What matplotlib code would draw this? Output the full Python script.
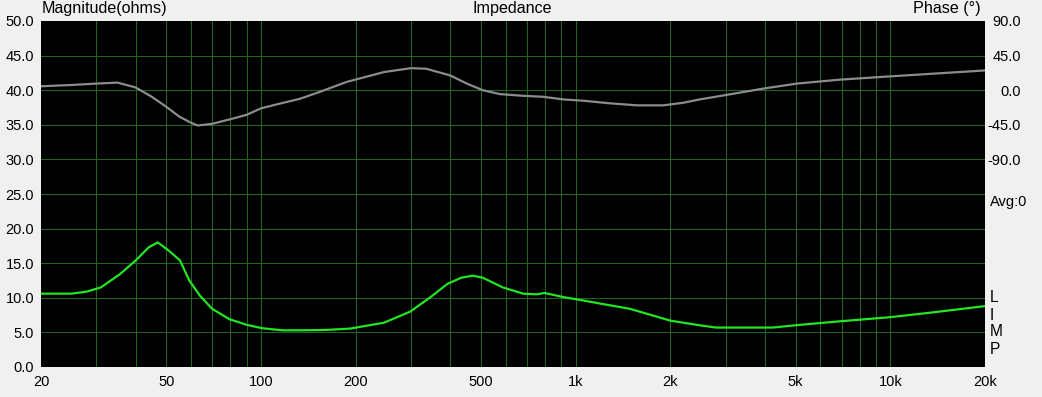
import numpy as np
import matplotlib
matplotlib.use("Agg")
import matplotlib.pyplot as plt
from matplotlib.ticker import FixedLocator, LogLocator, NullFormatter

plt.rcParams['font.family'] = ['Liberation Sans', 'DejaVu Sans']
plt.rcParams['font.size'] = 10

# impedance magnitude (ohms)
mag_freq = [20, 25, 28, 31, 35.6, 40, 44, 47, 51, 55.3, 59.2, 64, 70, 79.5, 90, 101,
            117, 133, 160, 192, 246, 298, 346, 391, 433, 471, 507, 587, 681, 752, 797,
            915, 1060, 1220, 1490, 2000, 2420, 2790, 3500, 4230, 5050, 6900, 10000,
            13700, 20000]
magnitude = [10.6, 10.6, 10.9, 11.5, 13.4, 15.4, 17.3, 18.0, 16.8, 15.4, 12.5, 10.3,
             8.4, 6.9, 6.1, 5.6, 5.3, 5.3, 5.35, 5.55, 6.4, 8.0, 10.1, 12.0, 12.9, 13.2,
             12.9, 11.5, 10.6, 10.5, 10.7, 10.1, 9.6, 9.1, 8.4, 6.7, 6.1, 5.7, 5.7, 5.7,
             6.05, 6.6, 7.2, 7.9, 8.8]

# phase (degrees)
ph_freq = [20, 25, 30, 35, 40, 45, 50, 55, 60, 63, 70, 80, 90, 100, 116, 133, 154, 187,
           246, 300, 335, 399, 451, 507, 575, 681, 790, 915, 1060, 1280, 1570, 1900,
           2200, 2480, 2990, 3950, 5050, 6900, 10000, 20000]
phase = [5.1, 6.8, 8.6, 9.9, 3.5, -8.6, -21.5, -34.3, -42.4, -45.9, -43.7, -37.7,
         -32.1, -23.6, -17, -11.2, -2.1, 10.7, 23.6, 28.7, 27.9, 19.3, 8.6, 0, -5.1,
         -7.3, -8.6, -12, -13.7, -17, -19.7, -19.7, -16.3, -12, -6.4, 2.1, 8.6, 13.7,
         18, 25.7]

x_ticks = [20, 50, 100, 200, 500, 1000, 2000, 5000, 10000, 20000]
x_labels = ['20', '50', '100', '200', '500', '1k', '2k', '5k', '10k', '20k']
mag_ticks = np.arange(0, 51, 5)
ph_ticks = [-90, -45, 0, 45, 90]

W, H = 1042, 397
fig = plt.figure(figsize=(W / 100, H / 100), dpi=100, facecolor='#f0f0f0')
ax = fig.add_axes([41 / W, 1 - 367 / H, 944 / W, 346 / H])
ax.set_facecolor('black')
ax.set_xscale('log')
ax.set_xlim(20, 20000)
ax.set_ylim(0, 50)

ax.xaxis.set_major_locator(FixedLocator(x_ticks))
ax.set_xticklabels(x_labels)
ax.xaxis.set_minor_locator(LogLocator(base=10, subs=np.arange(1, 10)))
ax.xaxis.set_minor_formatter(NullFormatter())
ax.set_yticks(mag_ticks)
ax.set_yticklabels(['%.1f' % v for v in mag_ticks])
grid_kw = dict(color='#1f651f', lw=0.72, antialiased=False)
ax.grid(which='both', axis='x', **grid_kw)
ax.grid(which='major', axis='y', **grid_kw)
ax.tick_params(axis='both', which='both', length=0, labelsize=10.5)
ax.tick_params(axis='x', pad=6)
ax.tick_params(axis='y', pad=5)
for s in ax.spines.values():
    s.set_visible(False)

ax.plot(mag_freq, magnitude, color='#22e622', lw=1.6)

ax2 = ax.twinx()
ax2.set_ylim(-360, 90)
ax2.set_yticks(ph_ticks)
ax2.set_yticklabels(['%.1f' % v for v in ph_ticks])
ax2.tick_params(axis='y', length=0, pad=26, labelsize=10.5)
for lab in ax2.get_yticklabels():
    lab.set_horizontalalignment('right')
for s in ax2.spines.values():
    s.set_visible(False)
ax2.plot(ph_freq, phase, color='#8c8c8c', lw=1.6)

# no grid on the frame edges
fig.canvas.draw()
for gl in (ax.yaxis.get_gridlines()[0], ax.yaxis.get_gridlines()[-1],
           ax.xaxis.get_gridlines()[0], ax.xaxis.get_gridlines()[-1]):
    gl.set_visible(False)

fig.text(42 / W, 1 - 9 / H, 'Magnitude(ohms)', ha='left', va='center', fontsize=11.6)
fig.text(512 / W, 1 - 9 / H, 'Impedance', ha='center', va='center', fontsize=11.6)
fig.text(981 / W, 1 - 9 / H, 'Phase (\u00b0)', ha='right', va='center', fontsize=11.6)
fig.text(990 / W, 1 - 202 / H, 'Avg:0', ha='left', va='center', fontsize=10.5)
for i, ch in enumerate('LIMP'):
    fig.text(990 / W, 1 - (298 + 17 * i) / H, ch, ha='left', va='center', fontsize=11.2)

fig.savefig('out.png', dpi=100, facecolor=fig.get_facecolor())
